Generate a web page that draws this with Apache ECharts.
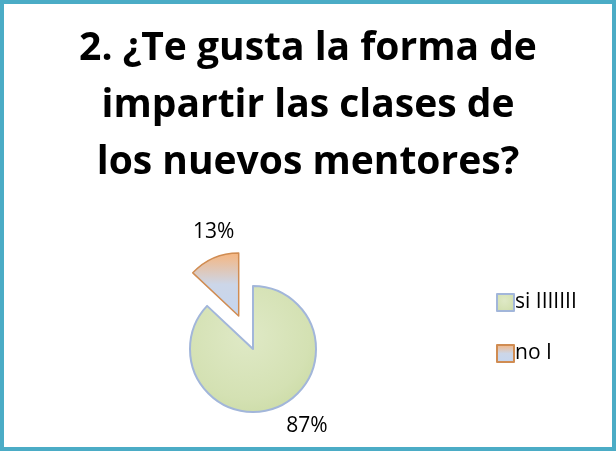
<!DOCTYPE html>
<html><head><meta charset="utf-8">
<script src="https://cdn.jsdelivr.net/npm/echarts@6/dist/echarts.min.js"></script>
<style>
html,body{margin:0;padding:0;background:#fff;}
#frame{position:absolute;left:0;top:0;width:608px;height:443px;border:4px solid #4bacc6;background:#fff;}
#c{width:608px;height:443px;}
</style></head>
<body><div id="frame"><div id="c"></div></div>
<script>
const titleText = "2. ¿Te gusta la forma de\nimpartir las clases de\nlos nuevos mentores?";
const categories = ["si IIIIIII", "no I"];
const values = [87, 13];
const labels = ["87%", "13%"];

const chart = echarts.init(document.getElementById('c'));
const greenFill = new echarts.graphic.RadialGradient(0.45, 0.4, 0.75, [
  {offset: 0, color: '#dfe9c6'}, {offset: 0.65, color: '#d4e1b3'}, {offset: 0.9, color: '#cbdba5'}, {offset: 1, color: '#b9cd8f'}]);
const orangeFill = new echarts.graphic.LinearGradient(0, 0, 0, 1, [
  {offset: 0, color: '#f7b57d'}, {offset: 0.5, color: '#ccd6e8'}, {offset: 1, color: '#c5d6f0'}]);
const styles = [
  {color: greenFill, borderColor: '#a2b6da', borderWidth: 2},
  {color: orangeFill, borderColor: '#d08c52', borderWidth: 1.5}
];
const labelShift = [[24, 19], [5, -26]];
chart.setOption({
  animation: false,
  title: {
    text: titleText, left: 'center', top: 11,
    textStyle: {fontFamily: 'Open Sans', fontWeight: 'bold', fontSize: 39, lineHeight: 57, color: '#000'}
  },
  legend: {
    orient: 'vertical', left: 487, top: 283, padding: 5, itemWidth: 17, itemHeight: 17, itemGap: 30,
    textStyle: {fontFamily: 'Open Sans', fontSize: 21, color: '#000', padding: [0,0,0,-4]},
    data: categories.map((c, i) => ({name: c, icon: 'rect'}))
  },
  series: [{
    type: 'pie', center: [249, 345], radius: 63, startAngle: 90, clockwise: true,
    selectedMode: 'single', selectedOffset: 36,
    label: {show: true, position: 'outside', fontFamily: 'Open Sans', fontSize: 21, color: '#000',
      formatter: p => labels[p.dataIndex]},
    labelLine: {show: false, length: 0, length2: 0},
    labelLayout: p => ({align: 'center', verticalAlign: 'middle',
      dx: labelShift[p.dataIndex][0], dy: labelShift[p.dataIndex][1]}),
    data: categories.map((c, i) => ({name: c, value: values[i], selected: i === 1, itemStyle: styles[i]}))
  }]
});
</script></body></html>
